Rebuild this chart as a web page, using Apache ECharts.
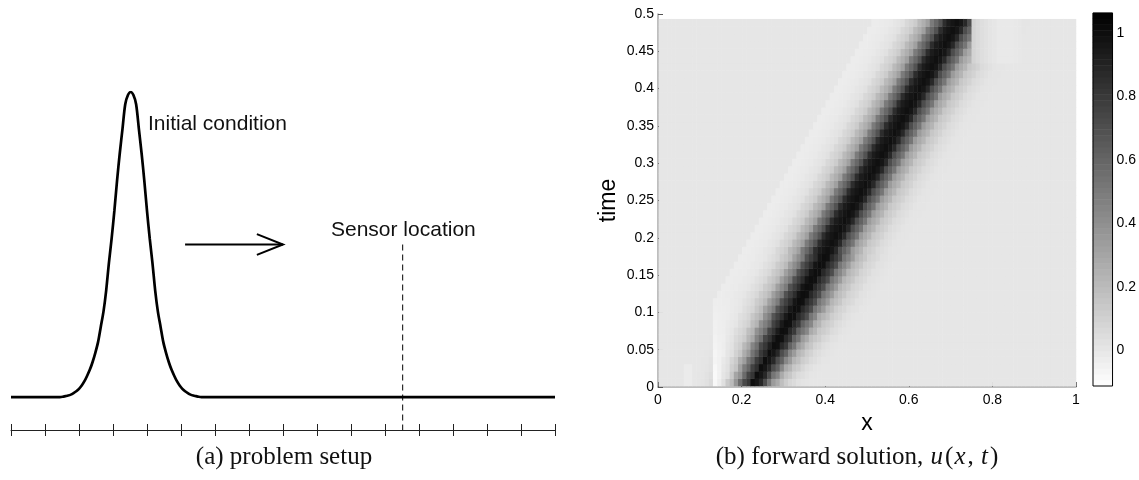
<!DOCTYPE html>
<html>
<head>
<meta charset="utf-8">
<script src="https://cdn.jsdelivr.net/npm/echarts@6/dist/echarts.min.js"></script>
<style>
  html, body { margin: 0; padding: 0; background: #ffffff; }
  #chart { width: 1139px; height: 480px; }
</style>
</head>
<body>
<div id="chart"></div>
<script>
// ---- pulse shape: u at |x - centre| = 0, 0.005, 0.010, ... ----
const pulseOffsetStep = 0.005;
const pulseProfile = [1.00, 0.99, 0.96, 0.88, 0.80, 0.71, 0.61, 0.52, 0.44, 0.35,
                      0.28, 0.23, 0.18, 0.145, 0.115, 0.09, 0.07, 0.052, 0.038, 0.027,
                      0.019, 0.013, 0.008, 0.005, 0.003, 0.001, 0];
const initialCentre = 0.22;
const sensorX = 0.72;

// number line ticks of the setup sketch
const setupTickStep = 0.0625;

// arrow showing the transport direction (x, u)
const arrowShaft = [[0.32, 0.5], [0.5, 0.5]];
const arrowHead = [[0.452, 0.534], [0.5, 0.5], [0.452, 0.466]];
const sensorLine = [[sensorX, 0.5], [sensorX, -0.108]];

// ---- forward solution u(x,t) ----
const solutionEndTime = 0.493;
const xCells = [];            // cell centres in x
for (let k = 0; k < 100; k++) xCells.push(+(0.005 + 0.01 * k).toFixed(3));
const timeRows = [];          // row centres in t
for (let j = 0; j < 50; j++) timeRows.push(+((j + 0.5) * solutionEndTime / 50).toFixed(4));

// centre of the travelling pulse in each time row
const bandCenter = [0.225, 0.235, 0.245, 0.255, 0.265, 0.275, 0.285, 0.295, 0.305, 0.315,
                    0.325, 0.335, 0.345, 0.355, 0.365, 0.375, 0.385, 0.395, 0.400, 0.410,
                    0.420, 0.430, 0.440, 0.450, 0.460, 0.470, 0.480, 0.490, 0.500, 0.510,
                    0.520, 0.530, 0.540, 0.550, 0.560, 0.570, 0.580, 0.590, 0.600, 0.610,
                    0.620, 0.630, 0.640, 0.650, 0.660, 0.670, 0.680, 0.690, 0.700, 0.710];
// widening of the pulse in each time row (relative to the initial shape)
const bandSpread = [1.15, 1.20, 1.25, 1.30, 1.33, 1.36, 1.39, 1.42, 1.44, 1.46,
                    1.48, 1.50, 1.50, 1.50, 1.50, 1.50, 1.50, 1.50, 1.50, 1.50,
                    1.50, 1.50, 1.50, 1.50, 1.50, 1.50, 1.50, 1.50, 1.50, 1.50,
                    1.50, 1.50, 1.50, 1.50, 1.50, 1.50, 1.50, 1.50, 1.50, 1.50,
                    1.50, 1.50, 1.50, 1.50, 1.50, 1.50, 1.50, 1.50, 1.50, 1.50];
// lighter wake behind the pulse: left edge and level per time row
const wakeStart = [0.135, 0.135, 0.135, 0.135, 0.135, 0.135, 0.135, 0.135, 0.135, 0.135,
                   0.135, 0.135, 0.145, 0.155, 0.165, 0.175, 0.185, 0.195, 0.205, 0.215,
                   0.225, 0.235, 0.245, 0.255, 0.265, 0.275, 0.285, 0.295, 0.305, 0.315,
                   0.325, 0.335, 0.345, 0.355, 0.365, 0.375, 0.385, 0.395, 0.405, 0.415,
                   0.425, 0.435, 0.445, 0.455, 0.465, 0.475, 0.485, 0.495, 0.505, 0.515];
const wakeLevel = [-0.15, -0.14, -0.12, -0.10, -0.085, -0.07, -0.06, -0.05, -0.045, -0.04,
                   -0.035, -0.03, -0.025, -0.025, -0.025, -0.025, -0.025, -0.025, -0.025, -0.025,
                   -0.025, -0.025, -0.025, -0.025, -0.025, -0.025, -0.025, -0.025, -0.025, -0.025,
                   -0.025, -0.025, -0.025, -0.025, -0.025, -0.025, -0.025, -0.025, -0.025, -0.025,
                   -0.025, -0.025, -0.025, -0.025, -0.025, -0.025, -0.025, -0.025, -0.025, -0.025];
// patch near the outflow corner (rows from t = 0.435, x >= 0.75)
const patchFromRow = 44;
const patchCells = [0.755, 0.765, 0.775, 0.785, 0.795, 0.805, 0.815, 0.825, 0.835, 0.845, 0.855, 0.865];
const patchValues = [0.09, 0.06, 0.04, 0.025, 0.01, 0.0, -0.01, -0.012, -0.012, -0.01, -0.008, -0.005];
// faint streak near the inflow at early times
const streakRows = [0, 1, 2];
const streakCells = [0.065, 0.075];
const streakValue = -0.02;

// colour limits of the colorbar
const colorLimits = [-0.1135, 1.0636];

// ---- build tables ----
function profileAt(offset) {
  const k = Math.round(Math.abs(offset) / pulseOffsetStep);
  return k < pulseProfile.length ? pulseProfile[k] : 0;
}

const initialCurve = [];
for (let k = 0; k <= 200; k++) {
  const x = +(k * 0.005).toFixed(3);
  initialCurve.push([x, profileAt(x - initialCentre)]);
}

const cells = [];
timeRows.forEach((t, j) => {
  xCells.forEach((x, i) => {
    let v = profileAt((x - bandCenter[j]) / bandSpread[j]);
    if (x >= wakeStart[j] - 1e-9 && x < bandCenter[j]) v += wakeLevel[j];
    if (j >= patchFromRow) {
      const p = patchCells.indexOf(x);
      if (p >= 0) v = patchValues[p];
    }
    if (streakRows.indexOf(j) >= 0 && streakCells.indexOf(x) >= 0) v = streakValue;
    cells.push([i, j, +v.toFixed(4)]);
  });
});

const colorbarLevels = [];
for (let k = 0; k < 64; k++) {
  colorbarLevels.push(colorLimits[0] + (k + 0.5) * (colorLimits[1] - colorLimits[0]) / 64);
}
const colorbarCells = colorbarLevels.map((v, k) => [0, k, v]);

// ---- chart ----
const sans = '"Liberation Sans", Arial, Helvetica, sans-serif';
const serif = '"Liberation Serif", "Times New Roman", serif';
const chart = echarts.init(document.getElementById('chart'), null, { renderer: 'canvas' });

const hiddenCat = (grid, data) => ({ type: 'category', gridIndex: grid, data: data, show: false, boundaryGap: true });

chart.setOption({
  animation: false,
  backgroundColor: '#ffffff',
  grid: [
    { left: 11, width: 544, top: 92, height: 338 },                 // setup sketch
    { left: 659, width: 417, top: 19.2, height: 366.8 },            // solution cells
    { left: 658, width: 418, top: 14, height: 373 },                // solution axes
    { left: 1093, width: 20, top: 13, height: 373, show: true, borderColor: '#000', borderWidth: 1,
      backgroundColor: 'transparent', z: 10 }                        // colorbar
  ],
  xAxis: [
    { type: 'value', gridIndex: 0, min: 0, max: 1, interval: setupTickStep,
      axisLine: { onZero: false, lineStyle: { color: '#222', width: 1 } },
      axisTick: { length: 6, lineStyle: { color: '#222', width: 1 } },
      axisLabel: { show: false }, splitLine: { show: false } },
    { type: 'value', gridIndex: 0, min: 0, max: 1, interval: setupTickStep, position: 'bottom',
      axisLine: { show: false, onZero: false },
      axisTick: { inside: true, length: 6, lineStyle: { color: '#222', width: 1 } },
      axisLabel: { show: false }, splitLine: { show: false } },
    hiddenCat(1, xCells),
    { type: 'value', gridIndex: 2, min: 0, max: 1, interval: 0.2,
      name: 'x', nameLocation: 'middle', nameGap: 21,
      nameTextStyle: { fontFamily: sans, fontSize: 23, color: '#000' },
      axisLine: { onZero: false, lineStyle: { color: '#a8a8a8', width: 1.5 } },
      axisTick: { inside: true, length: 5, lineStyle: { color: '#555' } },
      axisLabel: { fontFamily: sans, fontSize: 14, color: '#000', margin: 6 },
      splitLine: { show: false } },
    hiddenCat(3, ['c'])
  ],
  yAxis: [
    { type: 'value', gridIndex: 0, min: -0.108, max: 1, show: false, splitLine: { show: false } },
    hiddenCat(1, timeRows),
    { type: 'value', gridIndex: 2, min: 0, max: 0.5, interval: 0.05,
      name: 'time', nameLocation: 'middle', nameGap: 38, nameRotate: 90,
      nameTextStyle: { fontFamily: sans, fontSize: 23, color: '#000' },
      axisLine: { onZero: false, lineStyle: { color: '#a8a8a8', width: 1.5 } },
      axisTick: { inside: true, length: 5, lineStyle: { color: '#555' } },
      axisLabel: { fontFamily: sans, fontSize: 14, color: '#000', margin: 4 },
      splitLine: { show: false } },
    hiddenCat(3, colorbarLevels.map((v, k) => String(k))),
    { type: 'value', gridIndex: 3, min: colorLimits[0], max: colorLimits[1], splitNumber: 6,
      position: 'right', z: 11,
      axisLine: { show: false },
      axisTick: { inside: true, length: 3, lineStyle: { color: '#000' } },
      axisLabel: { fontFamily: sans, fontSize: 14, color: '#000', margin: 4,
        showMinLabel: false, showMaxLabel: false,
        formatter: v => (Math.abs(v * 5 - Math.round(v * 5)) < 1e-6 ? String(+v.toFixed(1)) : '') },
      splitLine: { show: false } },
    { type: 'value', gridIndex: 3, min: colorLimits[0], max: colorLimits[1], splitNumber: 6,
      position: 'left', z: 11,
      axisLine: { show: false },
      axisTick: { inside: true, length: 3, lineStyle: { color: '#000' } },
      axisLabel: { show: false }, splitLine: { show: false } }
  ],
  visualMap: {
    type: 'continuous', show: false, seriesIndex: [4, 5], dimension: 2,
    min: colorLimits[0], max: colorLimits[1],
    inRange: { color: ['#ffffff', '#000000'] }
  },
  series: [
    { type: 'line', name: 'Initial condition', xAxisIndex: 0, yAxisIndex: 0, data: initialCurve,
      symbol: 'none', smooth: 0.3, lineStyle: { color: '#000', width: 2.7 }, z: 3 },
    { type: 'line', name: 'Sensor location', xAxisIndex: 0, yAxisIndex: 0, data: sensorLine,
      symbol: 'none', lineStyle: { color: '#000', width: 1, type: [6, 4] }, z: 2 },
    { type: 'line', xAxisIndex: 0, yAxisIndex: 0, data: arrowShaft,
      symbol: 'none', lineStyle: { color: '#000', width: 2 } },
    { type: 'line', xAxisIndex: 0, yAxisIndex: 0, data: arrowHead,
      symbol: 'none', lineStyle: { color: '#000', width: 2, join: 'miter' } },
    { type: 'heatmap', xAxisIndex: 2, yAxisIndex: 1, data: cells, progressive: 0 },
    { type: 'heatmap', xAxisIndex: 4, yAxisIndex: 3, data: colorbarCells, progressive: 0 }
  ],
  graphic: [
    { type: 'text', x: 148, y: 124, style: { text: 'Initial condition', font: '21px ' + sans,
      fill: '#111', align: 'left', verticalAlign: 'middle' } },
    { type: 'text', x: 331, y: 230, style: { text: 'Sensor location', font: '21px ' + sans,
      fill: '#111', align: 'left', verticalAlign: 'middle' } },
    { type: 'text', x: 284, y: 457, style: { text: '(a) problem setup', font: '25px ' + serif,
      fill: '#111', align: 'center', verticalAlign: 'middle' } },
    { type: 'text', x: 857, y: 457, style: {
      text: '{r|(b) forward solution, }{i|u}{r|(}{i|x}{r|, }{i|t}{r|)}',
      align: 'center', verticalAlign: 'middle',
      rich: { r: { font: '25px ' + serif, fill: '#111' },
              i: { font: 'italic 25px ' + serif, fill: '#111', padding: [0, 2, 0, 1] } } } }
  ]
});
</script>
</body>
</html>
